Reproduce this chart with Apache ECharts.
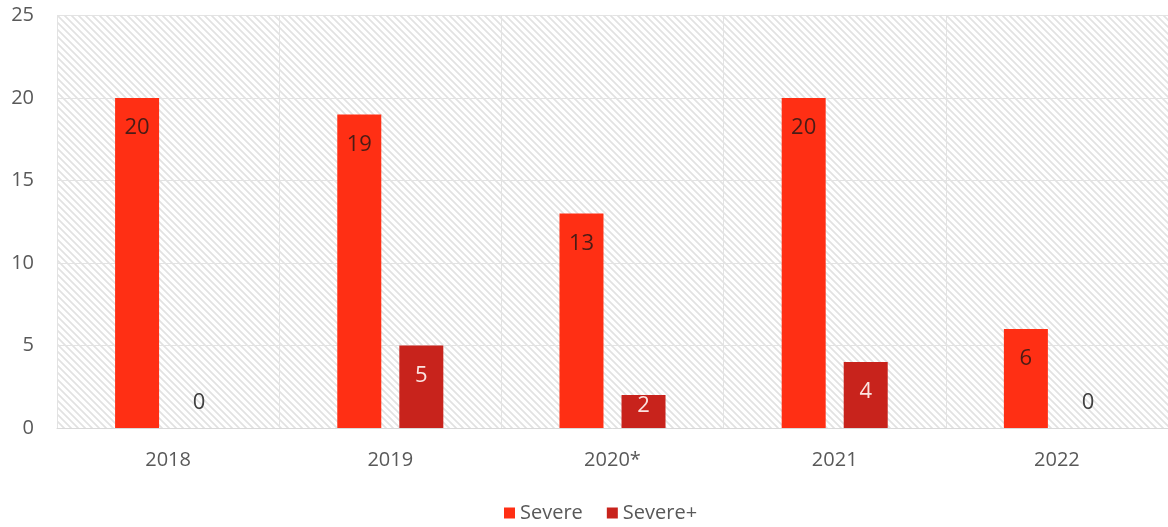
<!DOCTYPE html>
<html>
<head>
<meta charset="utf-8">
<script src="https://cdn.jsdelivr.net/npm/echarts@6/dist/echarts.min.js"></script>
<style>
html,body{margin:0;padding:0;background:#fff;}
#chart{width:1168px;height:527px;}
</style>
</head>
<body>
<div id="chart"></div>
<script>
var categories = ['2018', '2019', '2020*', '2021', '2022'];
var severe = [20, 19, 13, 20, 6];
var severePlus = [0, 5, 2, 4, 0];
var yTicks = [0, 5, 10, 15, 20, 25];

function hatch() {
  var c = document.createElement('canvas');
  var s = 7;
  c.width = s; c.height = s;
  var ctx = c.getContext('2d');
  ctx.fillStyle = '#ffffff';
  ctx.fillRect(0, 0, s, s);
  ctx.strokeStyle = '#e2e2e2';
  ctx.lineWidth = 1.7;
  ctx.beginPath();
  ctx.moveTo(-1, -1); ctx.lineTo(s + 1, s + 1);
  ctx.moveTo(-1, s - 1); ctx.lineTo(1, s + 1);
  ctx.moveTo(s - 1, -1); ctx.lineTo(s + 1, 1);
  ctx.stroke();
  return c;
}

function withLabelRules(arr) {
  return arr.map(function (v) {
    if (v === 0) {
      return { value: v, label: { position: 'insideBottom', distance: 14, color: '#404040' } };
    }
    if (v <= 2) {
      return { value: v, label: { distance: 0 } };
    }
    return v;
  });
}

var chart = echarts.init(document.getElementById('chart'), null, { renderer: 'canvas' });
var font = '"Open Sans", "Noto Sans", sans-serif';
chart.setOption({
  animation: false,
  textStyle: { fontFamily: font },
  grid: {
    left: 57, right: 0, top: 15.5, bottom: 99,
    show: true,
    borderWidth: 0,
    backgroundColor: { image: hatch(), repeat: 'repeat' }
  },
  legend: {
    top: 498,
    left: 499,
    itemWidth: 11,
    itemHeight: 11,
    itemGap: 24,
    icon: 'rect',
    textStyle: { fontSize: 20, color: '#595959', fontFamily: font },
    data: ['Severe', 'Severe+']
  },
  xAxis: {
    type: 'category',
    data: categories,
    axisLine: { show: true, lineStyle: { color: '#d9d9d9', width: 1 } },
    axisTick: { show: false },
    axisLabel: { fontSize: 20, color: '#595959', margin: 22, fontFamily: font },
    splitLine: { show: true, interval: 0, lineStyle: { color: '#e3e3e3', width: 1 } }
  },
  yAxis: {
    type: 'value',
    min: yTicks[0],
    max: yTicks[yTicks.length - 1],
    interval: 5,
    axisLine: { show: false },
    axisTick: { show: false },
    axisLabel: { fontSize: 20, color: '#595959', margin: 23, fontFamily: font },
    splitLine: { show: true, lineStyle: { color: '#e3e3e3', width: 1 } }
  },
  series: [
    {
      name: 'Severe',
      type: 'bar',
      data: withLabelRules(severe),
      barWidth: 44,
      barGap: '41%',
      itemStyle: { color: '#ff2f14' },
      label: {
        show: true,
        position: 'insideTop',
        distance: 19,
        fontSize: 22,
        color: '#4a1c16',
        fontFamily: font
      }
    },
    {
      name: 'Severe+',
      type: 'bar',
      data: withLabelRules(severePlus),
      barWidth: 44,
      itemStyle: { color: '#c8231c' },
      label: {
        show: true,
        position: 'insideTop',
        distance: 19,
        fontSize: 22,
        color: '#fbe3e0',
        fontFamily: font
      }
    }
  ]
});
</script>
</body>
</html>
